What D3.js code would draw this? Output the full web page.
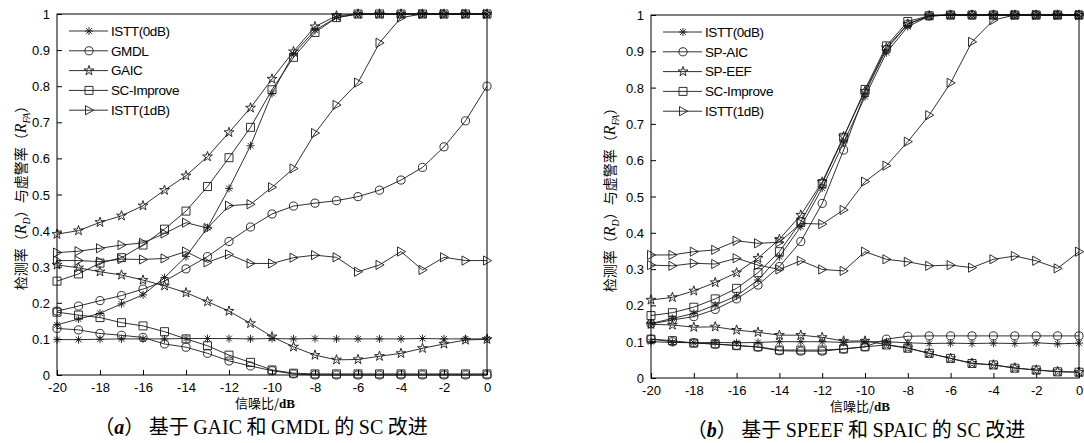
<!DOCTYPE html>
<html lang="zh">
<head>
    <meta charset="utf-8">
    <title>SC improve</title>
    <script type="text/javascript" src="https://d3js.org/d3.v7.min.js"></script>
    <style>
     body { margin: 0; background: white; }
     svg text { fill: #000; }
     .tick-label { font-family: "Liberation Sans", Arial, sans-serif; font-size: 13px; }
     .legend-text { font-family: "Liberation Sans", Arial, sans-serif; font-size: 13.5px; letter-spacing: -0.4px; }
     .ylab { font-family: "Noto Sans CJK SC", sans-serif; font-size: 14px; }
     .xlab { font-family: "Noto Sans CJK SC", sans-serif; font-size: 13px; }
     .caption { font-family: "Liberation Serif", "Noto Sans CJK SC", serif; font-size: 20px; }
    </style>
</head>
<body>
<div id="chart"></div>
<script type="text/javascript">
    // x axis: SNR in dB
    const snr = [-20, -19, -18, -17, -16, -15, -14, -13, -12, -11, -10, -9, -8, -7, -6, -5, -4, -3, -2, -1, 0];
    const xTicks = [-20, -18, -16, -14, -12, -10, -8, -6, -4, -2, 0];
    const yTicks = [0, 0.1, 0.2, 0.3, 0.4, 0.5, 0.6, 0.7, 0.8, 0.9, 1];

    // (a) GAIC / GMDL
    const legendA = ["ISTT(0dB)", "GMDL", "GAIC", "SC-Improve", "ISTT(1dB)"];
    const aIstt0Det = [0.139, 0.155, 0.171, 0.197, 0.222, 0.27, 0.328, 0.408, 0.517, 0.635, 0.78, 0.89, 0.955, 0.99, 1, 1, 1, 1, 1, 1, 1];
    const aIstt0Fa  = [0.098, 0.098, 0.099, 0.1, 0.1, 0.1, 0.101, 0.101, 0.101, 0.1, 0.101, 0.1, 0.101, 0.1, 0.1, 0.1, 0.1, 0.101, 0.1, 0.1, 0.1];
    const aGmdlDet  = [0.177, 0.191, 0.206, 0.22, 0.238, 0.26, 0.294, 0.328, 0.37, 0.41, 0.446, 0.468, 0.476, 0.483, 0.494, 0.512, 0.54, 0.575, 0.632, 0.704, 0.8];
    const aGmdlFa   = [0.129, 0.125, 0.115, 0.11, 0.104, 0.086, 0.077, 0.06, 0.039, 0.025, 0.012, 0.003, 0, 0, 0, 0, 0, 0, 0, 0, 0];
    const aGaicDet  = [0.39, 0.4, 0.423, 0.441, 0.469, 0.512, 0.552, 0.605, 0.672, 0.74, 0.82, 0.896, 0.965, 0.995, 1, 1, 1, 1, 1, 1, 1];
    const aGaicFa   = [0.305, 0.297, 0.286, 0.277, 0.263, 0.247, 0.228, 0.203, 0.177, 0.143, 0.106, 0.078, 0.055, 0.042, 0.043, 0.052, 0.06, 0.074, 0.086, 0.097, 0.099];
    const aScDet    = [0.26, 0.28, 0.31, 0.325, 0.36, 0.404, 0.454, 0.522, 0.602, 0.686, 0.79, 0.88, 0.949, 0.99, 1, 1, 1, 1, 1, 1, 1];
    const aScFa     = [0.174, 0.166, 0.159, 0.145, 0.136, 0.12, 0.1, 0.081, 0.055, 0.035, 0.014, 0.005, 0.003, 0.003, 0.003, 0.003, 0.003, 0.003, 0.003, 0.003, 0.003];
    const aIstt1Det = [0.339, 0.343, 0.351, 0.36, 0.366, 0.392, 0.422, 0.407, 0.469, 0.473, 0.52, 0.572, 0.67, 0.748, 0.81, 0.92, 0.99, 1, 1, 1, 1];
    const aIstt1Fa  = [0.317, 0.317, 0.314, 0.321, 0.32, 0.323, 0.342, 0.312, 0.334, 0.309, 0.309, 0.325, 0.332, 0.326, 0.286, 0.305, 0.342, 0.291, 0.326, 0.317, 0.317];

    // (b) SPEEF / SPAIC
    const legendB = ["ISTT(0dB)", "SP-AIC", "SP-EEF", "SC-Improve", "ISTT(1dB)"];
    const bIstt0Det = [0.15, 0.164, 0.178, 0.201, 0.226, 0.27, 0.334, 0.417, 0.523, 0.648, 0.775, 0.896, 0.968, 0.997, 1, 1, 1, 1, 1, 1, 1];
    const bIstt0Fa  = [0.1, 0.098, 0.097, 0.098, 0.097, 0.098, 0.1, 0.1, 0.1, 0.098, 0.1, 0.1, 0.097, 0.095, 0.096, 0.095, 0.096, 0.095, 0.097, 0.094, 0.096];
    const bAicDet   = [0.149, 0.16, 0.169, 0.189, 0.218, 0.256, 0.307, 0.376, 0.481, 0.628, 0.785, 0.905, 0.975, 0.997, 1, 1, 1, 1, 1, 1, 1];
    const bAicFa    = [0.107, 0.1, 0.097, 0.093, 0.09, 0.085, 0.075, 0.074, 0.074, 0.08, 0.086, 0.107, 0.115, 0.116, 0.116, 0.116, 0.116, 0.116, 0.116, 0.116, 0.116];
    const bEefDet   = [0.215, 0.222, 0.24, 0.263, 0.29, 0.33, 0.382, 0.449, 0.54, 0.665, 0.79, 0.91, 0.975, 0.998, 1, 1, 1, 1, 1, 1, 1];
    const bEefFa    = [0.148, 0.146, 0.14, 0.141, 0.132, 0.126, 0.118, 0.118, 0.112, 0.102, 0.102, 0.092, 0.083, 0.068, 0.054, 0.041, 0.036, 0.028, 0.022, 0.018, 0.016];
    const bScDet    = [0.172, 0.18, 0.195, 0.218, 0.247, 0.29, 0.348, 0.43, 0.536, 0.663, 0.795, 0.915, 0.982, 0.998, 1, 1, 1, 1, 1, 1, 1];
    const bScFa     = [0.107, 0.103, 0.096, 0.094, 0.089, 0.086, 0.077, 0.077, 0.077, 0.08, 0.086, 0.091, 0.082, 0.068, 0.054, 0.04, 0.036, 0.027, 0.022, 0.017, 0.016];
    const bIstt1Det = [0.339, 0.339, 0.348, 0.353, 0.378, 0.371, 0.374, 0.426, 0.424, 0.463, 0.541, 0.585, 0.651, 0.724, 0.813, 0.926, 0.986, 1, 1, 1, 1];
    const bIstt1Fa  = [0.311, 0.309, 0.316, 0.314, 0.33, 0.311, 0.299, 0.323, 0.299, 0.295, 0.348, 0.327, 0.32, 0.309, 0.311, 0.304, 0.327, 0.336, 0.323, 0.302, 0.348];

    const markerOrder = ["asterisk", "circle", "star", "square", "triangle"];

    const width = 1084;
    const height = 443;

    const svg = d3.select("#chart")
        .append("svg")
        .attr("width", width)
        .attr("height", height);

    function markerPath(type) {
        if (type === "asterisk") {
            return "M0,-4V4M-4,0H4M-2.9,-2.9L2.9,2.9M-2.9,2.9L2.9,-2.9";
        }
        if (type === "triangle") {
            return "M-3.5,-4.6L4.6,0L-3.5,4.6Z";
        }
        if (type === "circle") return d3.symbol(d3.symbolCircle, 52)();
        if (type === "square") return d3.symbol(d3.symbolSquare, 64)();
        if (type === "star") return d3.symbol(d3.symbolStar, 30)();
    }

    function drawPanel(cfg) {
        const x = d3.scaleLinear().domain([-20, 0]).range([cfg.left, cfg.right]);
        const y = d3.scaleLinear().domain([0, 1]).range([cfg.bottom, cfg.top]);
        const g = svg.append("g");

        // lines + markers
        const line = d3.line().x((d, i) => x(snr[i])).y(d => y(d));
        cfg.series.forEach(s => {
            g.append("path")
                .attr("d", line(s.values))
                .attr("fill", "none")
                .attr("stroke", "#1a1a1a")
                .attr("stroke-width", 0.9);
            g.selectAll(null)
                .data(s.values)
                .enter()
                .append("path")
                    .attr("d", markerPath(s.marker))
                    .attr("transform", (d, i) => "translate(" + x(snr[i]) + "," + y(d) + ")")
                    .attr("fill", "none")
                    .attr("stroke", "#1a1a1a")
                    .attr("stroke-width", 0.9);
        });

        // axes (ticks inside), plain hyphen minus like the original
        const xAxis = d3.axisBottom(x).tickValues(xTicks).tickSize(-5).tickPadding(9).tickFormat(d => String(d));
        const yAxis = d3.axisLeft(y).tickValues(yTicks).tickSize(-5).tickPadding(7).tickFormat(d => String(+d.toFixed(1)));
        const xa = g.append("g").attr("transform", "translate(0," + cfg.bottom + ")").call(xAxis);
        const ya = g.append("g").attr("transform", "translate(" + cfg.left + ",0)").call(yAxis);
        [xa, ya].forEach(a => {
            a.select(".domain").remove();
            a.selectAll("line").attr("stroke", "#000");
            a.selectAll("text").attr("class", "tick-label").attr("fill", "#000");
        });
        xa.selectAll("text").attr("dy", "0.62em");
        ya.selectAll("text").attr("dy", "0.35em");

        // box
        g.append("rect")
            .attr("x", cfg.left).attr("y", cfg.top)
            .attr("width", cfg.right - cfg.left).attr("height", cfg.bottom - cfg.top)
            .attr("fill", "none").attr("stroke", "#000").attr("stroke-width", 1);

        // legend
        const lg = g.append("g").attr("transform", "translate(" + (cfg.left + 12) + "," + (cfg.top + 17) + ")");
        cfg.series.slice(0, 5).forEach((s, i) => {
            const row = lg.append("g").attr("transform", "translate(0," + (i * 19.8) + ")");
            row.append("line").attr("x1", 0).attr("x2", 39).attr("y1", 0).attr("y2", 0)
                .attr("stroke", "#1a1a1a").attr("stroke-width", 0.9);
            row.append("path").attr("d", markerPath(s.marker))
                .attr("transform", "translate(20,0)")
                .attr("fill", "none").attr("stroke", "#1a1a1a").attr("stroke-width", 0.9);
            row.append("text").attr("class", "legend-text")
                .attr("x", 42).attr("y", 0).attr("dy", "0.36em")
                .text(s.name);
        });

        // y label
        const yl = g.append("text").attr("class", "ylab")
            .attr("transform", "translate(" + cfg.yLabelX + "," + ((cfg.top + cfg.bottom) / 2) + ") rotate(-90)")
            .attr("text-anchor", "middle");
        yl.append("tspan").text("检测率（");
        yl.append("tspan").attr("font-family", "Liberation Serif").attr("font-style", "italic").attr("font-size", 16).text("R");
        yl.append("tspan").attr("font-family", "Liberation Serif").attr("font-style", "italic").attr("font-size", 10).attr("dy", 4).text("D");
        yl.append("tspan").attr("dy", -4).text("）与虚警率（");
        yl.append("tspan").attr("font-family", "Liberation Serif").attr("font-style", "italic").attr("font-size", 16).text("R");
        yl.append("tspan").attr("font-family", "Liberation Serif").attr("font-style", "italic").attr("font-size", 10).attr("dy", 4).text("FA");
        yl.append("tspan").attr("dy", -4).text("）");

        // x label
        const xl = g.append("text").attr("class", "xlab")
            .attr("x", cfg.xLabelX).attr("y", cfg.bottom + cfg.xLabelGap)
            .attr("text-anchor", "middle");
        xl.append("tspan").text("信噪比/");
        xl.append("tspan").attr("font-family", "Liberation Serif").attr("font-weight", "bold").text("dB");

        // caption
        const cap = g.append("text").attr("class", "caption")
            .attr("x", cfg.captionX).attr("y", cfg.captionY)
            .attr("text-anchor", "middle");
        cap.append("tspan").attr("font-family", "Noto Sans CJK SC").text("（");
        cap.append("tspan").attr("font-style", "italic").attr("font-weight", "bold").text(cfg.tag);
        cap.append("tspan").attr("font-family", "Noto Sans CJK SC").text("）");
        cfg.caption.forEach(part => {
            cap.append("tspan").attr("font-family", part.cjk ? "Noto Sans CJK SC" : "Liberation Serif").text(part.t);
        });
    }

    function buildSeries(names, det, fa) {
        const out = [];
        names.forEach((n, i) => out.push({ name: n, marker: markerOrder[i], values: det[i] }));
        names.forEach((n, i) => out.push({ name: n, marker: markerOrder[i], values: fa[i] }));
        return out;
    }

    drawPanel({
        tag: "a",
        left: 57, right: 487, top: 14, bottom: 375,
        yLabelX: 26, xLabelX: 265, xLabelGap: 33, captionX: 261, captionY: 434,
        series: buildSeries(legendA,
            [aIstt0Det, aGmdlDet, aGaicDet, aScDet, aIstt1Det],
            [aIstt0Fa, aGmdlFa, aGaicFa, aScFa, aIstt1Fa]),
        caption: [{ t: "  基于 ", cjk: true }, { t: "GAIC" }, { t: " 和 ", cjk: true }, { t: "GMDL" },
                  { t: " 的 ", cjk: true }, { t: "SC" }, { t: " 改进", cjk: true }]
    });

    drawPanel({
        tag: "b",
        left: 651, right: 1079, top: 15, bottom: 378,
        yLabelX: 615, xLabelX: 860, xLabelGap: 33, captionX: 856, captionY: 437,
        series: buildSeries(legendB,
            [bIstt0Det, bAicDet, bEefDet, bScDet, bIstt1Det],
            [bIstt0Fa, bAicFa, bEefFa, bScFa, bIstt1Fa]),
        caption: [{ t: "  基于 ", cjk: true }, { t: "SPEEF" }, { t: " 和 ", cjk: true }, { t: "SPAIC" },
                  { t: " 的 ", cjk: true }, { t: "SC" }, { t: " 改进", cjk: true }]
    });
</script>
</body>
</html>
